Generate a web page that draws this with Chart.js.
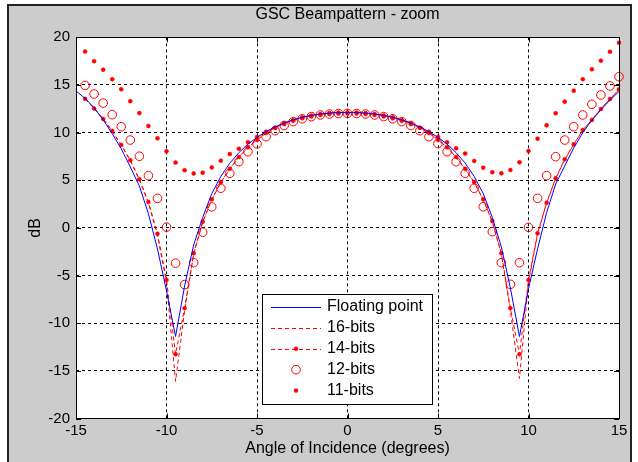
<!DOCTYPE html>
<html><head><meta charset="utf-8">
<script src="https://cdn.jsdelivr.net/npm/chart.js@4/dist/chart.umd.min.js"></script>
<style>html,body{margin:0;padding:0;background:#fff;overflow:hidden}</style>
</head><body>
<canvas id="c" width="638" height="462"></canvas>
<script>
// ---- data ----
const angleFloat = [-15,-14.5,-14,-13.5,-13,-12.5,-12,-11.5,-11,-10.5,-10,-9.5,-9,-8.5,-8,-7.5,-7,-6.5,-6,-5.5,-5,-4.5,-4,-3.5,-3,-2.5,-2,-1.5,-1,-0.5,0,0.5,1,1.5,2,2.5,3,3.5,4,4.5,5,5.5,6,6.5,7,7.5,8,8.5,9,9.5,10,10.5,11,11.5,12,12.5,13,13.5,14,14.5,15];
const floatingPoint = [14.37,13.6,12.6,11.35,9.9,8.3,6.4,4.4,1.5,-2.2,-6.6,-11.4,-6.1,-1.8,1.1,3.6,5.4,6.8,7.9,8.8,9.5,10.1,10.6,11.0,11.35,11.6,11.8,11.95,12.05,12.1,12.1,12.1,12.05,11.95,11.8,11.6,11.35,11.0,10.6,10.1,9.5,8.8,7.9,6.8,5.4,3.6,1.1,-2.0,-6.3,-11.4,-6.4,-2.2,1.6,4.6,6.5,8.4,10.0,11.3,12.4,13.4,14.3];

const angleBits = [-14.5,-14,-13.5,-13,-12.5,-12,-11.5,-11,-10.5,-10,-9.5,-9,-8.5,-8,-7.5,-7,-6.5,-6,-5.5,-5,-4.5,-4,-3.5,-3,-2.5,-2,-1.5,-1,-0.5,0,0.5,1,1.5,2,2.5,3,3.5,4,4.5,5,5.5,6,6.5,7,7.5,8,8.5,9,9.5,10,10.5,11,11.5,12,12.5,13,13.5,14,14.5,15];
const bits16 = [13.6,12.55,11.4,10.15,8.7,7.05,5.05,2.65,-0.75,-5.7,-16.1,-8.7,-2.75,0.6,2.95,4.75,6.15,7.4,8.45,9.25,9.95,10.5,10.95,11.3,11.6,11.8,11.95,12.05,12.1,12.1,12.1,12.05,11.95,11.8,11.6,11.3,10.95,10.5,9.95,9.25,8.45,7.4,6.15,4.75,2.95,0.65,-2.75,-8.7,-15.8,-5.7,-0.7,2.6,5.15,7.15,8.75,10.25,11.35,12.5,13.55,14.5];
const bits14 = [13.54,12.53,11.44,10.18,8.71,7.1,5.1,2.72,-0.62,-5.47,-13.25,-8.44,-2.66,0.65,3.0,4.8,6.2,7.45,8.45,9.25,9.95,10.5,10.95,11.3,11.6,11.8,11.95,12.05,12.1,12.12,12.1,12.05,11.95,11.8,11.6,11.3,10.95,10.5,9.95,9.25,8.45,7.45,6.2,4.8,3.0,0.72,-2.66,-8.44,-13.26,-5.47,-0.57,2.64,5.2,7.2,8.77,10.27,11.33,12.48,13.52,14.54];
const bits12 = [14.95,14.05,13.1,11.88,10.62,9.22,7.52,5.48,3.1,0.08,-3.7,-5.95,-3.65,-0.45,2.2,4.16,5.73,6.95,8.0,8.82,9.57,10.2,10.75,11.15,11.45,11.68,11.85,11.95,12.0,12.02,12.0,11.95,11.85,11.68,11.45,11.15,10.75,10.2,9.57,8.85,8.0,6.95,5.73,4.16,2.22,-0.4,-3.65,-5.92,-3.65,0.06,3.1,5.48,7.47,9.22,10.62,11.85,12.97,13.95,14.89,15.87];
const bits11 = [18.5,17.5,16.6,15.6,14.55,13.3,12.05,10.7,9.4,8.05,6.85,6.05,5.72,5.8,6.35,7.05,7.75,8.3,9.0,9.55,10.1,10.5,10.9,11.25,11.5,11.7,11.85,11.95,12.0,12.0,12.0,11.95,11.85,11.7,11.5,11.25,10.9,10.5,10.1,9.55,8.98,8.35,7.8,7.02,6.32,5.84,5.73,6.08,6.88,8.07,9.36,10.77,12.03,13.25,14.4,15.6,16.64,17.55,18.49,19.43];

const xTicks = [-15,-10,-5,0,5,10,15];
const yTicks = [-20,-15,-10,-5,0,5,10,15,20];
const seriesNames = ['Floating point','16-bits','14-bits','12-bits','11-bits'];

const pts = (xs, ys) => xs.map((x, i) => ({x, y: ys[i]}));
const FONT = 'Liberation Sans, Arial, sans-serif';

const frame = {
  id: 'frame',
  beforeDraw(chart) {
    const ctx = chart.ctx, a = chart.chartArea;
    ctx.save();
    ctx.fillStyle = '#ffffff'; ctx.fillRect(0, 0, 638, 462);
    ctx.fillStyle = '#cccccc'; ctx.fillRect(8, 5, 623, 470);
    ctx.strokeStyle = '#222'; ctx.lineWidth = 2; ctx.strokeRect(8, 5, 623, 470);
    ctx.fillStyle = '#ffffff'; ctx.fillRect(a.left, a.top, a.right - a.left, a.bottom - a.top);
    ctx.restore();
  },
  afterDraw(chart) {
    const ctx = chart.ctx, a = chart.chartArea;
    const xs = chart.scales.x, ys = chart.scales.y;
    ctx.save();
    ctx.strokeStyle = '#000'; ctx.lineWidth = 1; ctx.setLineDash([]);
    ctx.strokeRect(Math.round(a.left) + 0.5, Math.round(a.top) + 0.5, Math.round(a.right - a.left), Math.round(a.bottom - a.top));
    ctx.beginPath();
    xTicks.forEach(v => {
      const p = Math.round(xs.getPixelForValue(v)) + 0.5;
      ctx.moveTo(p, a.bottom); ctx.lineTo(p, a.bottom - 5);
      ctx.moveTo(p, a.top); ctx.lineTo(p, a.top + 5);
    });
    yTicks.forEach(v => {
      const p = Math.round(ys.getPixelForValue(v)) + 0.5;
      ctx.moveTo(a.left, p); ctx.lineTo(a.left + 5, p);
      ctx.moveTo(a.right, p); ctx.lineTo(a.right - 5, p);
    });
    ctx.stroke();
    // legend box
    const bx = 262, by = 294, bw = 170, bh = 110;
    ctx.fillStyle = '#fff'; ctx.fillRect(bx, by, bw, bh);
    ctx.strokeStyle = '#000'; ctx.strokeRect(bx + 0.5, by + 0.5, bw, bh);
    ctx.font = '16px ' + FONT; ctx.textBaseline = 'middle'; ctx.textAlign = 'left';
    chart.data.datasets.forEach((ds, i) => {
      const y = 307 + i * 20.9;
      ctx.save();
      if (ds.showLine !== false) {
        ctx.strokeStyle = ds.borderColor; ctx.lineWidth = 1;
        ctx.setLineDash(ds.borderDash || []);
        ctx.beginPath(); ctx.moveTo(271, Math.round(y) + 0.5); ctx.lineTo(321, Math.round(y) + 0.5); ctx.stroke();
      }
      ctx.setLineDash([]);
      if (ds.pointRadius > 0) {
        ctx.beginPath(); ctx.arc(296, y, ds.pointRadius, 0, Math.PI * 2);
        if (ds.pointBackgroundColor && ds.pointBackgroundColor !== 'rgba(0,0,0,0)') { ctx.fillStyle = ds.pointBackgroundColor; ctx.fill(); }
        ctx.strokeStyle = ds.pointBorderColor; ctx.lineWidth = ds.pointBorderWidth; ctx.stroke();
      }
      ctx.fillStyle = '#000';
      ctx.fillText(ds.label, 327, y);
      ctx.restore();
    });
    ctx.restore();
  }
};

new Chart(document.getElementById('c'), {
  type: 'line',
  data: {
    datasets: [
      { label: seriesNames[0], data: pts(angleFloat, floatingPoint), borderColor: '#0000ff', borderWidth: 1, pointRadius: 0, tension: 0 },
      { label: seriesNames[1], data: pts(angleBits, bits16), borderColor: '#ff0000', borderWidth: 1, borderDash: [4, 3], pointRadius: 0, tension: 0 },
      { label: seriesNames[2], data: pts(angleBits, bits14), borderColor: '#ff0000', borderWidth: 1, borderDash: [4, 3], pointRadius: 2, pointBackgroundColor: '#ff0000', pointBorderColor: '#ff0000', pointBorderWidth: 0.5, tension: 0 },
      { label: seriesNames[3], data: pts(angleBits, bits12), showLine: false, borderColor: '#ff0000', pointRadius: 4.3, pointBackgroundColor: 'rgba(0,0,0,0)', pointBorderColor: '#ff0000', pointBorderWidth: 1, clip: false },
      { label: seriesNames[4], data: pts(angleBits, bits11), showLine: false, borderColor: '#ff0000', pointRadius: 2, pointBackgroundColor: '#ff0000', pointBorderColor: '#ff0000', pointBorderWidth: 0.5, clip: false }
    ]
  },
  options: {
    responsive: false, animation: false, devicePixelRatio: 1,
    layout: { padding: { left: 20, right: 19, top: 0, bottom: 0 } },
    plugins: {
      legend: { display: false }, tooltip: { enabled: false },
      title: { display: true, fullSize: false, text: 'GSC Beampattern - zoom', color: '#000', font: { family: FONT, size: 16, weight: 'normal' }, padding: { top: 5, bottom: 13.1 } }
    },
    scales: {
      x: {
        type: 'linear', min: -15, max: 15,
        afterBuildTicks: s => { s.ticks = xTicks.map(v => ({ value: v })); },
        afterFit: s => { s.height = 43.5; },
        ticks: { color: '#000', font: { family: FONT, size: 15 }, padding: 3, maxRotation: 0 },
        grid: { color: '#000', lineWidth: 1, drawTicks: false },
        border: { display: false, dash: [3, 3] },
        title: { display: true, text: 'Angle of Incidence (degrees)', color: '#000', font: { family: FONT, size: 16 }, padding: { top: 0, bottom: 4 } }
      },
      y: {
        type: 'linear', min: -20, max: 20,
        afterBuildTicks: s => { s.ticks = yTicks.map(v => ({ value: v })); },
        afterFit: s => { s.width = 56; },
        ticks: { color: '#000', font: { family: FONT, size: 15 }, padding: 6 },
        grid: { color: '#000', lineWidth: 1, drawTicks: false },
        border: { display: false, dash: [3, 3] },
        title: { display: true, text: 'dB', color: '#000', font: { family: FONT, size: 16 }, padding: { top: 6, bottom: 0 } }
      }
    }
  },
  plugins: [frame]
});
</script>
</body></html>
